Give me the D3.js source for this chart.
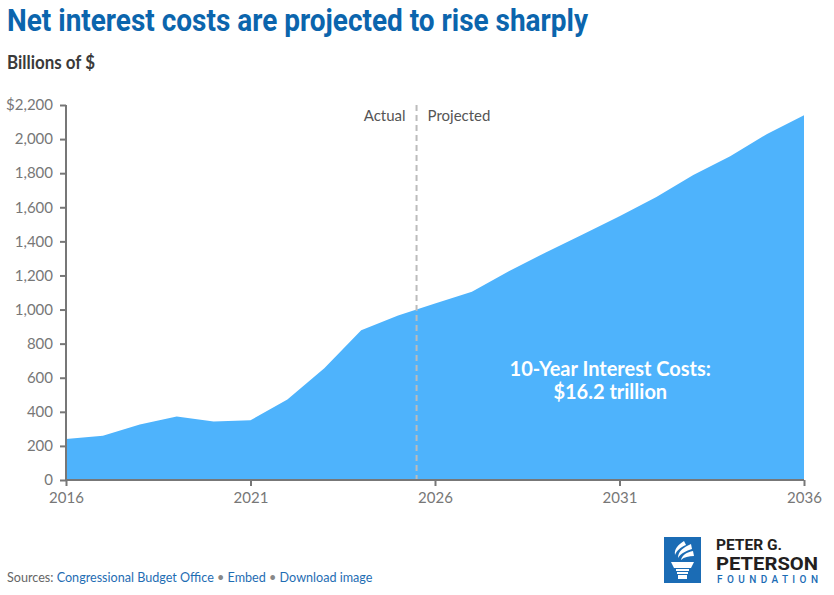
<html lang="en">
<head>
<meta charset="UTF-8">
<title>Net interest costs</title>
<script src="https://cdn.jsdelivr.net/npm/d3@7"></script>
<style>
  body { margin: 0; background: #fff; }
  svg { display: block; }
</style>
</head>
<body>
<svg id="chart"></svg>
<script>
// net interest, billions of dollars, fiscal years
var years = [2016, 2017, 2018, 2019, 2020, 2021, 2022, 2023, 2024, 2025, 2026,
             2027, 2028, 2029, 2030, 2031, 2032, 2033, 2034, 2035, 2036];
var interest = [240, 260, 325, 372, 343, 350, 472, 655, 878, 965, 1035,
                1105, 1225, 1335, 1440, 1548, 1660, 1790, 1900, 2030, 2140];
var yTicks = [0, 200, 400, 600, 800, 1000, 1200, 1400, 1600, 1800, 2000, 2200];
var xTicks = [2016, 2021, 2026, 2031, 2036];
var splitYear = 2025.5;

var width = 834, height = 595;
var margin = { top: 105, left: 66, right: 30, bottom: 115 };
var chartW = width - margin.left - margin.right;
var chartH = height - margin.top - margin.bottom;

var svg = d3.select("#chart").attr("width", width).attr("height", height);

var xScale = d3.scaleLinear().domain([2016, 2036]).range([0, chartW]);
var yScale = d3.scaleLinear().domain([0, 2200]).range([chartH, 0]);

/* title */
svg.append("text")
  .attr("x", 7).attr("y", 31)
  .attr("font-family", "Roboto").attr("font-weight", 700)
  .attr("font-size", 32).attr("fill", "#0b65ad")
  .attr("textLength", 581).attr("lengthAdjust", "spacingAndGlyphs")
  .text("Net interest costs are projected to rise sharply");
svg.append("text")
  .attr("x", 7).attr("y", 69)
  .attr("font-family", "Lato").attr("font-weight", 700)
  .attr("font-size", 19).attr("fill", "#3a3a3a")
  .attr("textLength", 88).attr("lengthAdjust", "spacingAndGlyphs")
  .text("Billions of $");

var plot = svg.append("g")
  .attr("transform", "translate(" + margin.left + "," + margin.top + ")");

var rows = years.map(function(y, i) { return { year: y, value: interest[i] }; });

var area = d3.area()
  .x(function(d) { return xScale(d.year); })
  .y0(chartH)
  .y1(function(d) { return yScale(d.value); });

plot.append("path")
  .datum(rows)
  .attr("d", area)
  .attr("fill", "#4eb3fc");

/* actual / projected divider */
plot.append("line")
  .attr("x1", xScale(splitYear)).attr("x2", xScale(splitYear))
  .attr("y1", 0).attr("y2", chartH)
  .attr("stroke", "#bcbcbc").attr("stroke-width", 2)
  .attr("stroke-dasharray", "6,4");
plot.append("text")
  .attr("x", xScale(splitYear) - 11).attr("y", 16)
  .attr("text-anchor", "end")
  .attr("font-family", "Lato").attr("font-size", 15).attr("fill", "#555")
  .text("Actual");
plot.append("text")
  .attr("x", xScale(splitYear) + 11).attr("y", 16)
  .attr("font-family", "Lato").attr("font-size", 15).attr("fill", "#555")
  .text("Projected");

/* annotation */
var note = plot.append("text")
  .attr("text-anchor", "middle")
  .attr("font-family", "Lato").attr("font-weight", 700)
  .attr("font-size", 20).attr("fill", "#fff");
note.append("tspan").attr("x", xScale(2030.75)).attr("y", 271).text("10-Year Interest Costs:");
note.append("tspan").attr("x", xScale(2030.75)).attr("y", 294).text("$16.2 trillion");

/* axes */
var yAxis = d3.axisLeft(yScale)
  .tickValues(yTicks)
  .tickSize(6)
  .tickPadding(7)
  .tickFormat(function(d) { return d === 2200 ? "$2,200" : d3.format(",")(d); });
var xAxis = d3.axisBottom(xScale)
  .tickValues(xTicks)
  .tickSize(6)
  .tickPadding(6)
  .tickFormat(d3.format("d"));

var gy = plot.append("g").call(yAxis);
var gx = plot.append("g").attr("transform", "translate(0," + chartH + ")").call(xAxis);

[gx, gy].forEach(function(g) {
  g.select(".domain").attr("stroke", "#777").attr("stroke-width", 2);
  g.selectAll(".tick line").attr("stroke", "#777").attr("stroke-width", 2);
  g.selectAll(".tick text")
    .attr("font-family", "Lato").attr("font-size", 15).attr("fill", "#777");
});
gy.select(".domain").attr("d", "M0," + chartH + "V0");
gx.select(".domain").attr("d", "M0,0H" + chartW);

/* footer */
var foot = svg.append("text")
  .attr("x", 7).attr("y", 582)
  .attr("font-family", "Lato").attr("font-size", 12.6);
foot.append("tspan").attr("fill", "#666").text("Sources: ");
foot.append("tspan").attr("fill", "#1f6db3").text("Congressional Budget Office");
foot.append("tspan").attr("fill", "#888").text(" \u2022 ");
foot.append("tspan").attr("fill", "#1f6db3").text("Embed");
foot.append("tspan").attr("fill", "#888").text("  \u2022 ");
foot.append("tspan").attr("fill", "#1f6db3").text("Download image");

/* logo */
var logo = svg.append("g").attr("transform", "translate(664,537)");
logo.append("rect").attr("width", 37).attr("height", 46).attr("fill", "#1b6cb5");
// flame
logo.append("path")
  .attr("d", "M20,4 C14,8 10,12 11,18 C13,13 17,10 22,8 Z")
  .attr("fill", "#fff");
logo.append("path")
  .attr("d", "M27,7 C20,10 14,14 14,21 C17,16 22,14 28,12 Z")
  .attr("fill", "#fff");
logo.append("path")
  .attr("d", "M29,14 C23,15 18,18 17,23 C20,20 25,19 30,19 Z")
  .attr("fill", "#fff");
// bowl and stem
logo.append("path")
  .attr("d", "M7,25 H30 L27,31 H10 Z")
  .attr("fill", "#fff");
logo.append("rect").attr("x", 12).attr("y", 32).attr("width", 13).attr("height", 2).attr("fill", "#fff");
logo.append("rect").attr("x", 13).attr("y", 35).attr("width", 11).attr("height", 2).attr("fill", "#fff");
logo.append("rect").attr("x", 14).attr("y", 38).attr("width", 9).attr("height", 4).attr("fill", "#fff");

svg.append("text")
  .attr("x", 716).attr("y", 550)
  .attr("font-family", "Roboto").attr("font-weight", 700)
  .attr("font-size", 15).attr("fill", "#231f20")
  .attr("textLength", 66).attr("lengthAdjust", "spacingAndGlyphs")
  .text("PETER G.");
svg.append("text")
  .attr("x", 716).attr("y", 570)
  .attr("font-family", "Roboto").attr("font-weight", 700)
  .attr("font-size", 18).attr("fill", "#231f20")
  .attr("textLength", 102).attr("lengthAdjust", "spacingAndGlyphs")
  .text("PETERSON");
svg.append("text")
  .attr("x", 717).attr("y", 583)
  .attr("font-family", "Roboto").attr("font-weight", 500)
  .attr("font-size", 10).attr("fill", "#1b6cb5")
  .attr("textLength", 101).attr("lengthAdjust", "spacing")
  .text("FOUNDATION");
</script>
</body>
</html>
